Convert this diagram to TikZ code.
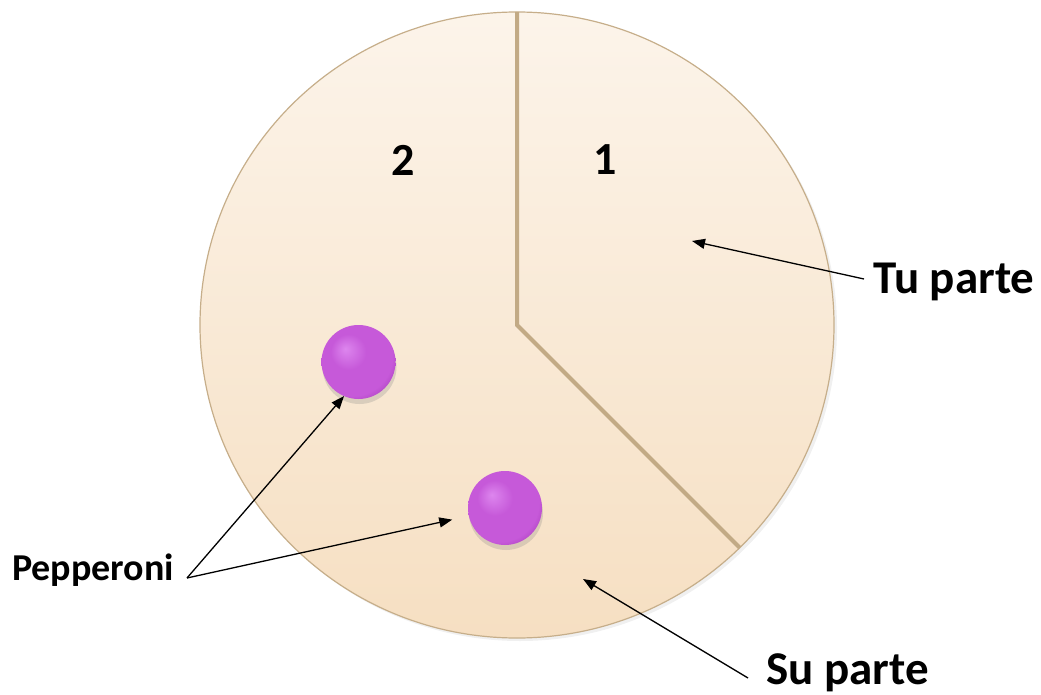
\documentclass[tikz,border=0pt]{standalone}
\usepackage{fontspec}
\setmainfont{Carlito}
\usetikzlibrary{shapes.geometric,arrows.meta,shadows,calc}
\definecolor{pizzaTop}{HTML}{FCF4EA}
\definecolor{pizzaBot}{HTML}{F6DFC2}
\definecolor{crust}{HTML}{C6AE8A}
\definecolor{cutline}{HTML}{C2AA85}
\definecolor{pepL}{HTML}{DD86EE}
\definecolor{pepM}{HTML}{C659D9}
\definecolor{pepD}{HTML}{A83DBB}
\pgfdeclareradialshading{pepshade}{\pgfpoint{-9bp}{9bp}}{color(0bp)=(pepL); color(12bp)=(pepM); color(27bp)=(pepM); color(34bp)=(pepD); color(50bp)=(pepD)}
\tikzset{
  pizza/.style={ellipse, draw=crust, line width=1.2pt, top color=pizzaTop, bottom color=pizzaBot,
    minimum width=634pt, minimum height=626pt, inner sep=0pt, outer sep=0pt,
    drop shadow={opacity=0.12, shadow xshift=3pt, shadow yshift=-3pt}},
  pep/.style={circle, shading=pepshade, minimum size=74pt, inner sep=0pt, outer sep=0pt,
    drop shadow={opacity=0.25, shadow xshift=1pt, shadow yshift=-5pt}},
  cut/.style={draw=cutline, line width=4pt, line join=miter},
  arr/.style={draw=black, line width=1.3pt, -{Triangle[length=13pt,width=10pt]}},
  lbl/.style={font=\bfseries\fontsize{47}{50}\selectfont, inner sep=0pt, anchor=base west},
  num/.style={font=\bfseries\fontsize{46}{46}\selectfont, inner sep=0pt},
}
\begin{document}
\begin{tikzpicture}[x=1pt,y=-1pt]
\useasboundingbox (0,0) rectangle (1041,695);
\node[pizza] (pz) at (517,325) {};
\draw[cut] (pz.north) -- (pz.center) -- (pz.-45);
\node[num] (n2) at (403,160) {2};
\node[num] (n1) at (605,160) {1};
\node[pep] (p1) at (358.5,362) {};
\node[pep] (p2) at (505,508) {};
\node[font=\bfseries\fontsize{38}{40}\selectfont, inner sep=0pt, anchor=base west] (pepl) at (12,580) {Pepperoni};
\coordinate (pv) at (187,578);
\draw[arr] (pv) -- (p1.247);
\draw[arr, shorten >=17pt] (pv) -- (p2);
\node[lbl] (tu) at (873,293) {Tu parte};
\coordinate (tuS) at (864,279);
\coordinate (tuT) at (692,241);
\draw[arr] (tuS) -- (tuT);
\node[lbl] (su) at (766,684) {Su parte};
\coordinate (suS) at (748,678);
\coordinate (suT) at (583,579);
\draw[arr] (suS) -- (suT);
\end{tikzpicture}
\end{document}
